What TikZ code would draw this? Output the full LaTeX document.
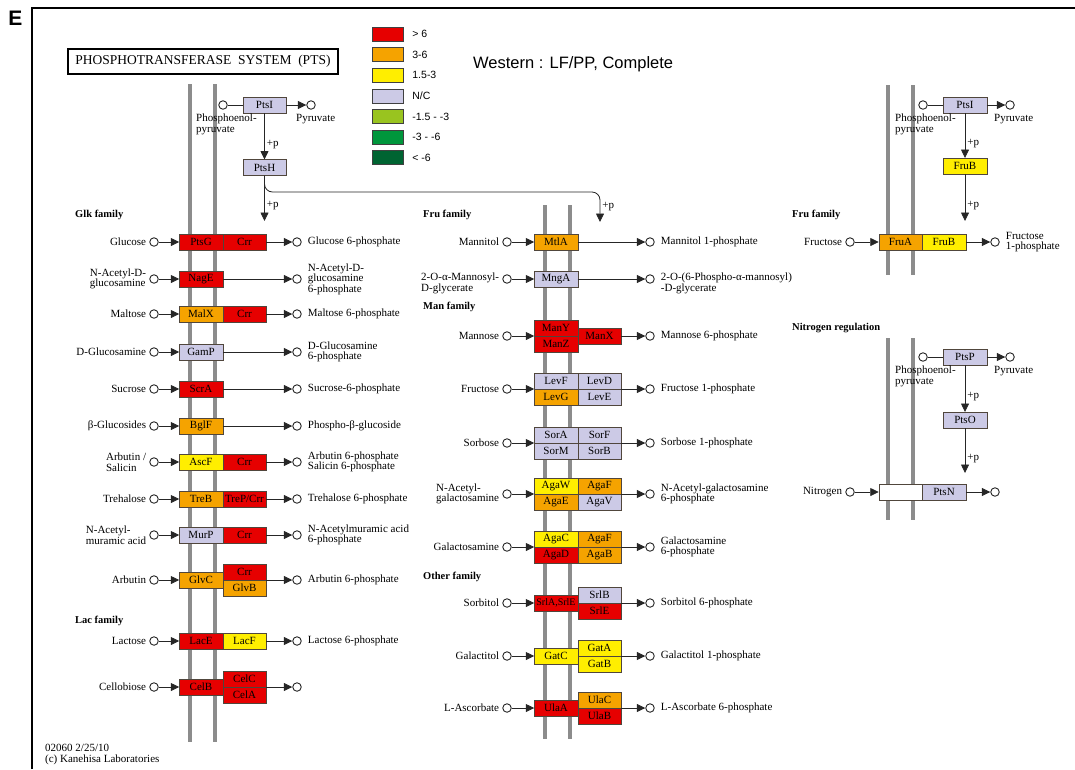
\documentclass[tikz,border=0pt]{standalone}
\usepackage{fontspec}
\setmainfont{Liberation Serif}
\setsansfont{Liberation Sans}
\usepackage{xcolor}
\usepackage{tikz}
\usetikzlibrary{arrows.meta,positioning}

\definecolor{kred}{RGB}{230,0,0}
\definecolor{korange}{RGB}{245,163,0}
\definecolor{kyellow}{RGB}{255,238,0}
\definecolor{knc}{RGB}{204,202,230}
\definecolor{klgreen}{RGB}{153,196,31}
\definecolor{kgreen}{RGB}{0,150,60}
\definecolor{kdgreen}{RGB}{0,100,50}
\definecolor{kedge}{RGB}{80,70,60}
\definecolor{kmem}{RGB}{140,140,140}

\newcommand{\kfont}{\fontsize{11}{10.5}\selectfont}
\newcommand{\kbold}{\fontsize{10.5}{12}\selectfont\bfseries}

\begin{document}
\begin{tikzpicture}[x=1pt, y=-1pt,
  gene/.style={draw=kedge, fill=#1, text=black, minimum width=43.5pt,
    minimum height=16pt, inner sep=0pt, outer sep=0pt, font=\kfont},
  sub/.style={circle, draw=black!85, fill=white, line width=0.9pt,
    minimum size=8.5pt, inner sep=0pt},
  arr/.style={-{Triangle[length=8.5pt,width=8pt]}, draw=black!85, line width=0.8pt},
  link/.style={draw=black!85, line width=0.8pt},
  txt/.style={font=\kfont, inner sep=0pt, align=left},
  fam/.style={font=\kbold, inner sep=0pt, anchor=west},
  plus/.style={font=\kfont, inner sep=0pt, anchor=west, xshift=2pt, pos=0.67},
  mem/.style={draw=kmem, line width=4pt},
  leg/.style={draw=black!75, minimum width=31pt, minimum height=14pt, inner sep=0pt},
  legtxt/.style={font=\sffamily\fontsize{10.5}{12}\selectfont, inner sep=0pt, anchor=west}]
  \useasboundingbox (0,0) rectangle (1075,769);

  % frame and heading
  \draw[line width=1.5pt] (32,769) -- (32,8) -- (1075,8);
  \node[font=\sffamily\bfseries\fontsize{21}{21}\selectfont, inner sep=0pt] (panel) at (15.5,18) {E};
  \node[draw, line width=2.6pt, minimum width=270pt, minimum height=25pt, inner sep=0pt,
    font=\fontsize{13.5}{14}\selectfont] (title) at (203,61.5) {PHOSPHOTRANSFERASE\ \ SYSTEM\ \ (PTS)};
  \node[font=\sffamily\fontsize{16.5}{18}\selectfont, inner sep=0pt, anchor=west] (cond) at (473,64) {Western : LF/PP, Complete};
  \node[txt, anchor=north west] (stamp) at (45,744) {02060 2/25/10\\(c) Kanehisa Laboratories};

  % legend
  \node[leg, fill=kred] (lg1) at (387.5,34) {};
  \node[leg, fill=korange, below=6.2pt of lg1] (lg2) {};
  \node[leg, fill=kyellow, below=6.2pt of lg2] (lg3) {};
  \node[leg, fill=knc, below=6.2pt of lg3] (lg4) {};
  \node[leg, fill=klgreen, below=6.2pt of lg4] (lg5) {};
  \node[leg, fill=kgreen, below=6.2pt of lg5] (lg6) {};
  \node[leg, fill=kdgreen, below=6.2pt of lg6] (lg7) {};
  \node[legtxt, right=9pt of lg1] (lgt1) {> 6};
  \node[legtxt, right=9pt of lg2] (lgt2) {3-6};
  \node[legtxt, right=9pt of lg3] (lgt3) {1.5-3};
  \node[legtxt, right=9pt of lg4] (lgt4) {N/C};
  \node[legtxt, right=9pt of lg5] (lgt5) {-1.5 - -3};
  \node[legtxt, right=9pt of lg6] (lgt6) {-3 - -6};
  \node[legtxt, right=9pt of lg7] (lgt7) {< -6};

  % membranes
  \draw[mem] (190,84) -- (190,742);
  \draw[mem] (215,84) -- (215,742);
  \draw[mem] (545,205) -- (545,739);
  \draw[mem] (570,205) -- (570,739);
  \draw[mem] (888,85) -- (888,275);
  \draw[mem] (913,85) -- (913,275);
  \draw[mem] (888,338) -- (888,520);
  \draw[mem] (913,338) -- (913,520);

  % PtsI -> PtsH
  \node[gene=knc] (ptsI) at (264.5,105) {PtsI};
  \node[sub] (pepA) at (223,105) {};
  \node[sub] (pyrA) at (311,105) {};
  \draw[link] (pepA) -- (ptsI);
  \draw[arr] (ptsI) -- (pyrA);
  \node[txt, anchor=north west] (pepTxtA) at (196,114) {Phosphoenol-\\pyruvate};
  \node[txt, anchor=north west] (pyrTxtA) at (296,114) {Pyruvate};
  \node[gene=knc] (ptsH) at (264.5,167.5) {PtsH};
  \draw[arr] (ptsI) -- node[plus] {+p} (ptsH);
  \coordinate (glkP) at (264.5,221);
  \coordinate (fruP) at (600,222);
  \draw[arr] (ptsH) -- node[plus] {+p} (glkP);
  \draw[arr, rounded corners=8pt] (ptsH.south) |- (600,192) -- node[plus, pos=0.5] {+p} (fruP);

  % Glk family
  \node[fam] (glkFam) at (75,215) {Glk family};
  \node[gene=kred] (ptsG) at (201,242) {PtsG};
  \node[gene=kred, right=0pt of ptsG] (crrG) {Crr};
  \node[sub] (glcIn) at (154,242) {};
  \node[sub] (glcOut) at (297,242) {};
  \node[txt, left=3pt of glcIn] (glcTxt) {Glucose};
  \node[txt, right=6pt of glcOut] (glcPTxt) {Glucose 6-phosphate};
  \draw[arr] (glcIn) -- (ptsG);
  \draw[arr] (crrG) -- (glcOut);

  \node[gene=kred] (nagE) at (201,279) {NagE};
  \node[sub] (nagIn) at (154,279) {};
  \node[sub] (nagOut) at (297,279) {};
  \node[txt, left=3pt of nagIn] (nagTxt) {N-Acetyl-D-\\glucosamine};
  \node[txt, right=6pt of nagOut] (nagPTxt) {N-Acetyl-D-\\glucosamine\\6-phosphate};
  \draw[arr] (nagIn) -- (nagE);
  \draw[arr] (nagE) -- (nagOut);

  \node[gene=korange] (malX) at (201,314) {MalX};
  \node[gene=kred, right=0pt of malX] (crrM) {Crr};
  \node[sub] (malIn) at (154,314) {};
  \node[sub] (malOut) at (297,314) {};
  \node[txt, left=3pt of malIn] (malTxt) {Maltose};
  \node[txt, right=6pt of malOut] (malPTxt) {Maltose 6-phosphate};
  \draw[arr] (malIn) -- (malX);
  \draw[arr] (crrM) -- (malOut);

  \node[gene=knc] (gamP) at (201,352) {GamP};
  \node[sub] (gamIn) at (154,352) {};
  \node[sub] (gamOut) at (297,352) {};
  \node[txt, left=3pt of gamIn] (gamTxt) {D-Glucosamine};
  \node[txt, right=6pt of gamOut] (gamPTxt) {D-Glucosamine\\6-phosphate};
  \draw[arr] (gamIn) -- (gamP);
  \draw[arr] (gamP) -- (gamOut);

  \node[gene=kred] (scrA) at (201,389) {ScrA};
  \node[sub] (scrIn) at (154,389) {};
  \node[sub] (scrOut) at (297,389) {};
  \node[txt, left=3pt of scrIn] (scrTxt) {Sucrose};
  \node[txt, right=6pt of scrOut] (scrPTxt) {Sucrose-6-phosphate};
  \draw[arr] (scrIn) -- (scrA);
  \draw[arr] (scrA) -- (scrOut);

  \node[gene=korange] (bglF) at (201,426) {BglF};
  \node[sub] (bglIn) at (154,426) {};
  \node[sub] (bglOut) at (297,426) {};
  \node[txt, left=3pt of bglIn] (bglTxt) {β-Glucosides};
  \node[txt, right=6pt of bglOut] (bglPTxt) {Phospho-β-glucoside};
  \draw[arr] (bglIn) -- (bglF);
  \draw[arr] (bglF) -- (bglOut);

  \node[gene=kyellow] (ascF) at (201,462) {AscF};
  \node[gene=kred, right=0pt of ascF] (crrS) {Crr};
  \node[sub] (ascIn) at (154,462) {};
  \node[sub] (ascOut) at (297,462) {};
  \node[txt, left=3pt of ascIn] (ascTxt) {Arbutin /\\Salicin};
  \node[txt, right=6pt of ascOut] (ascPTxt) {Arbutin 6-phosphate\\Salicin 6-phosphate};
  \draw[arr] (ascIn) -- (ascF);
  \draw[arr] (crrS) -- (ascOut);

  \node[gene=korange] (treB) at (201,499) {TreB};
  \node[gene=kred, right=0pt of treB] (treP) {TreP/Crr};
  \node[sub] (treIn) at (154,499) {};
  \node[sub] (treOut) at (297,499) {};
  \node[txt, left=3pt of treIn] (treTxt) {Trehalose};
  \node[txt, right=6pt of treOut] (trePTxt) {Trehalose 6-phosphate};
  \draw[arr] (treIn) -- (treB);
  \draw[arr] (treP) -- (treOut);

  \node[gene=knc] (murP) at (201,535) {MurP};
  \node[gene=kred, right=0pt of murP] (crrN) {Crr};
  \node[sub] (murIn) at (154,535) {};
  \node[sub] (murOut) at (297,535) {};
  \node[txt, left=3pt of murIn] (murTxt) {N-Acetyl-\\muramic acid};
  \node[txt, right=6pt of murOut] (murPTxt) {N-Acetylmuramic acid\\6-phosphate};
  \draw[arr] (murIn) -- (murP);
  \draw[arr] (crrN) -- (murOut);

  \node[gene=korange] (glvC) at (201,580) {GlvC};
  \node[gene=kred] (crrV) at (244.5,572) {Crr};
  \node[gene=korange, below=0pt of crrV] (glvB) {GlvB};
  \node[sub] (glvIn) at (154,580) {};
  \node[sub] (glvOut) at (297,580) {};
  \node[txt, left=3pt of glvIn] (glvTxt) {Arbutin};
  \node[txt, right=6pt of glvOut] (glvPTxt) {Arbutin 6-phosphate};
  \draw[arr] (glvIn) -- (glvC);
  \draw[arr] (crrV.south east) -- (glvOut);

  % Lac family
  \node[fam] (lacFam) at (75,621) {Lac family};
  \node[gene=kred] (lacE) at (201,641) {LacE};
  \node[gene=kyellow, right=0pt of lacE] (lacF) {LacF};
  \node[sub] (lacIn) at (154,641) {};
  \node[sub] (lacOut) at (297,641) {};
  \node[txt, left=3pt of lacIn] (lacTxt) {Lactose};
  \node[txt, right=6pt of lacOut] (lacPTxt) {Lactose 6-phosphate};
  \draw[arr] (lacIn) -- (lacE);
  \draw[arr] (lacF) -- (lacOut);

  \node[gene=kred] (celB) at (201,687) {CelB};
  \node[gene=kred] (celC) at (244.5,679) {CelC};
  \node[gene=kred, below=0pt of celC] (celA) {CelA};
  \node[sub] (celIn) at (154,687) {};
  \node[sub] (celOut) at (297,687) {};
  \node[txt, left=3pt of celIn] (celTxt) {Cellobiose};
  \draw[arr] (celIn) -- (celB);
  \draw[arr] (celC.south east) -- (celOut);

  % Fru family (middle)
  \node[fam] (fruFam) at (423,215) {Fru family};
  \node[gene=korange] (mtlA) at (556,242) {MtlA};
  \node[sub] (mtlIn) at (507,242) {};
  \node[sub] (mtlOut) at (650,242) {};
  \node[txt, left=3pt of mtlIn] (mtlTxt) {Mannitol};
  \node[txt, right=6pt of mtlOut] (mtlPTxt) {Mannitol 1-phosphate};
  \draw[arr] (mtlIn) -- (mtlA);
  \draw[arr] (mtlA) -- (mtlOut);

  \node[gene=knc] (mngA) at (556,279) {MngA};
  \node[sub] (mngIn) at (507,279) {};
  \node[sub] (mngOut) at (650,279) {};
  \node[txt, left=3pt of mngIn, yshift=-4.5pt] (mngTxt) {2-O-α-Mannosyl-\\D-glycerate};
  \node[txt, right=6pt of mngOut, yshift=-4.5pt] (mngPTxt) {2-O-(6-Phospho-α-mannosyl)\\-D-glycerate};
  \draw[arr] (mngIn) -- (mngA);
  \draw[arr] (mngA) -- (mngOut);

  % Man family
  \node[fam] (manFam) at (423,307) {Man family};
  \node[gene=kred] (manY) at (556,328) {ManY};
  \node[gene=kred, below=0pt of manY] (manZ) {ManZ};
  \node[gene=kred, anchor=west] (manX) at (manY.south east) {ManX};
  \node[sub] (manIn) at (507,336) {};
  \node[sub] (manOut) at (650,336) {};
  \node[txt, left=3pt of manIn] (manTxt) {Mannose};
  \node[txt, right=6pt of manOut] (manPTxt) {Mannose 6-phosphate};
  \draw[arr] (manIn) -- (manY.south west);
  \draw[arr] (manX) -- (manOut);

  \node[gene=knc] (levF) at (556,381) {LevF};
  \node[gene=korange, below=0pt of levF] (levG) {LevG};
  \node[gene=knc, right=0pt of levF] (levD) {LevD};
  \node[gene=knc, below=0pt of levD] (levE) {LevE};
  \node[sub] (levIn) at (507,389) {};
  \node[sub] (levOut) at (650,389) {};
  \node[txt, left=3pt of levIn] (levTxt) {Fructose};
  \node[txt, right=6pt of levOut] (levPTxt) {Fructose 1-phosphate};
  \draw[arr] (levIn) -- (levF.south west);
  \draw[arr] (levD.south east) -- (levOut);

  \node[gene=knc] (sorA) at (556,435) {SorA};
  \node[gene=knc, below=0pt of sorA] (sorM) {SorM};
  \node[gene=knc, right=0pt of sorA] (sorF) {SorF};
  \node[gene=knc, below=0pt of sorF] (sorB) {SorB};
  \node[sub] (sorIn) at (507,443) {};
  \node[sub] (sorOut) at (650,443) {};
  \node[txt, left=3pt of sorIn] (sorTxt) {Sorbose};
  \node[txt, right=6pt of sorOut] (sorPTxt) {Sorbose 1-phosphate};
  \draw[arr] (sorIn) -- (sorA.south west);
  \draw[arr] (sorF.south east) -- (sorOut);

  \node[gene=kyellow] (agaW) at (556,486) {AgaW};
  \node[gene=korange, below=0pt of agaW] (agaE) {AgaE};
  \node[gene=korange, right=0pt of agaW] (agaFn) {AgaF};
  \node[gene=knc, below=0pt of agaFn] (agaV) {AgaV};
  \node[sub] (nagaIn) at (507,494) {};
  \node[sub] (nagaOut) at (650,494) {};
  \node[txt, left=3pt of nagaIn] (nagaTxt) {N-Acetyl-\\galactosamine};
  \node[txt, right=6pt of nagaOut] (nagaPTxt) {N-Acetyl-galactosamine\\6-phosphate};
  \draw[arr] (nagaIn) -- (agaW.south west);
  \draw[arr] (agaFn.south east) -- (nagaOut);

  \node[gene=kyellow] (agaC) at (556,539) {AgaC};
  \node[gene=kred, below=0pt of agaC] (agaD) {AgaD};
  \node[gene=korange, right=0pt of agaC] (agaFg) {AgaF};
  \node[gene=korange, below=0pt of agaFg] (agaB) {AgaB};
  \node[sub] (galnIn) at (507,547) {};
  \node[sub] (galnOut) at (650,547) {};
  \node[txt, left=3pt of galnIn] (galnTxt) {Galactosamine};
  \node[txt, right=6pt of galnOut] (galnPTxt) {Galactosamine\\6-phosphate};
  \draw[arr] (galnIn) -- (agaC.south west);
  \draw[arr] (agaFg.south east) -- (galnOut);

  % Other family
  \node[fam] (othFam) at (423,577) {Other family};
  \node[gene=kred, font=\fontsize{10}{10}\selectfont] (srlAE) at (556,603) {SrlA,SrlE};
  \node[gene=knc] (srlB) at (599.5,595) {SrlB};
  \node[gene=kred, below=0pt of srlB] (srlE) {SrlE};
  \node[sub] (srlIn) at (507,603) {};
  \node[sub] (srlOut) at (650,603) {};
  \node[txt, left=3pt of srlIn] (srlTxt) {Sorbitol};
  \node[txt, right=6pt of srlOut] (srlPTxt) {Sorbitol 6-phosphate};
  \draw[arr] (srlIn) -- (srlAE);
  \draw[arr] (srlB.south east) -- (srlOut);

  \node[gene=kyellow] (gatC) at (556,656) {GatC};
  \node[gene=kyellow] (gatA) at (599.5,648) {GatA};
  \node[gene=kyellow, below=0pt of gatA] (gatB) {GatB};
  \node[sub] (gatIn) at (507,656) {};
  \node[sub] (gatOut) at (650,656) {};
  \node[txt, left=3pt of gatIn] (gatTxt) {Galactitol};
  \node[txt, right=6pt of gatOut] (gatPTxt) {Galactitol 1-phosphate};
  \draw[arr] (gatIn) -- (gatC);
  \draw[arr] (gatA.south east) -- (gatOut);

  \node[gene=kred] (ulaA) at (556,708) {UlaA};
  \node[gene=korange] (ulaC) at (599.5,700) {UlaC};
  \node[gene=kred, below=0pt of ulaC] (ulaB) {UlaB};
  \node[sub] (ulaIn) at (507,708) {};
  \node[sub] (ulaOut) at (650,708) {};
  \node[txt, left=3pt of ulaIn] (ulaTxt) {L-Ascorbate};
  \node[txt, right=6pt of ulaOut] (ulaPTxt) {L-Ascorbate 6-phosphate};
  \draw[arr] (ulaIn) -- (ulaA);
  \draw[arr] (ulaC.south east) -- (ulaOut);

  % Fru family (right)
  \node[gene=knc] (ptsIb) at (965,105) {PtsI};
  \node[sub] (pepB) at (923,105) {};
  \node[sub] (pyrB) at (1010,105) {};
  \draw[link] (pepB) -- (ptsIb);
  \draw[arr] (ptsIb) -- (pyrB);
  \node[txt, anchor=north west] (pepTxtB) at (895,114) {Phosphoenol-\\pyruvate};
  \node[txt, anchor=north west] (pyrTxtB) at (994,114) {Pyruvate};
  \node[gene=kyellow] (fruBt) at (965,166) {FruB};
  \draw[arr] (ptsIb) -- node[plus] {+p} (fruBt);
  \coordinate (fruPb) at (965,221);
  \draw[arr] (fruBt) -- node[plus] {+p} (fruPb);
  \node[fam] (fruFamB) at (792,215) {Fru family};
  \node[gene=korange] (fruA) at (900.5,242) {FruA};
  \node[gene=kyellow, right=0pt of fruA] (fruB) {FruB};
  \node[sub] (fruIn) at (850,242) {};
  \node[sub] (fruOut) at (995,242) {};
  \node[txt, left=3pt of fruIn] (fruTxt) {Fructose};
  \node[txt, right=6pt of fruOut] (fruPTxt) {Fructose\\1-phosphate};
  \draw[arr] (fruIn) -- (fruA);
  \draw[arr] (fruB) -- (fruOut);

  % Nitrogen regulation
  \node[fam] (ntrFam) at (792,328) {Nitrogen regulation};
  \node[gene=knc] (ptsP) at (965,357) {PtsP};
  \node[sub] (pepC) at (923,357) {};
  \node[sub] (pyrC) at (1010,357) {};
  \draw[link] (pepC) -- (ptsP);
  \draw[arr] (ptsP) -- (pyrC);
  \node[txt, anchor=north west] (pepTxtC) at (895,366) {Phosphoenol-\\pyruvate};
  \node[txt, anchor=north west] (pyrTxtC) at (994,366) {Pyruvate};
  \node[gene=knc] (ptsO) at (965,420) {PtsO};
  \draw[arr] (ptsP) -- node[plus] {+p} (ptsO);
  \coordinate (ntrP) at (965,473);
  \draw[arr] (ptsO) -- node[plus] {+p} (ntrP);
  \node[gene=white] (ntrBox) at (900.5,492) {};
  \node[gene=knc, right=0pt of ntrBox] (ptsN) {PtsN};
  \node[sub] (ntrIn) at (850,492) {};
  \node[sub] (ntrOut) at (995,492) {};
  \node[txt, left=3pt of ntrIn] (ntrTxt) {Nitrogen};
  \draw[arr] (ntrIn) -- (ntrBox);
  \draw[arr] (ptsN) -- (ntrOut);
\end{tikzpicture}
\end{document}
